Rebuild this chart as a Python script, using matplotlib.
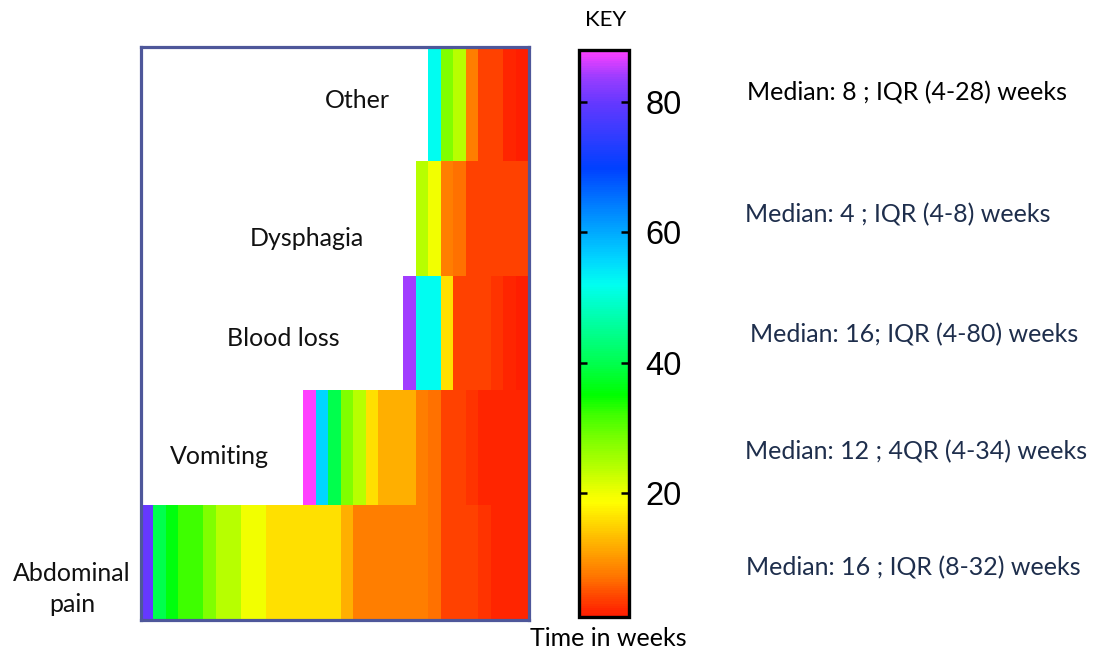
import numpy as np
import matplotlib
matplotlib.use("Agg")
import matplotlib.pyplot as plt
from matplotlib.colors import LinearSegmentedColormap, Normalize

# ---- data: time to diagnosis (weeks) for each patient, sorted longest first
categories = ["Other", "Dysphagia", "Blood loss", "Vomiting", "Abdominal\npain"]

other_weeks = [52, 28, 24, 8, 4, 4, 2, 1]
dysphagia_weeks = [24, 20, 8, 7, 4, 4, 4, 4, 4]
blood_loss_weeks = [84, 52, 52, 16, 4, 4, 4, 3, 2, 1]
vomiting_weeks = [88, 56, 40, 28, 24, 16, 12, 12, 12, 8, 7, 4, 4, 3, 2, 2, 2, 2]
abdominal_pain_weeks = [80, 40, 36, 32, 32, 28, 24, 24, 20, 20,
                        16, 16, 16, 16, 16, 16, 12,
                        8, 8, 8, 8, 8, 8, 7, 4, 4, 4, 3, 2, 2, 2]

summaries = [
    "Median: 8 ; IQR (4-28) weeks",
    "Median: 4 ; IQR (4-8) weeks",
    "Median: 16; IQR (4-80) weeks",
    "Median: 12 ; 4QR (4-34) weeks",
    "Median: 16 ; IQR (8-32) weeks",
]

key_ticks = [20, 40, 60, 80]
week_min, week_max = 1, 88

rows = [other_weeks, dysphagia_weeks, blood_loss_weeks, vomiting_weeks,
        abdominal_pain_weeks]
n_cols = max(len(r) for r in rows)

# right-align each symptom's patients in a common grid
grid = np.full((len(rows), n_cols), np.nan)
for i, r in enumerate(rows):
    grid[i, n_cols - len(r):] = r
grid = np.ma.masked_invalid(grid)

# ---- colour scale: red (short) through yellow, green, cyan, blue to magenta (long)
anchors = [
    (1, "#FF1E00"), (2, "#FF2800"), (3, "#FF3800"), (4, "#FF4500"),
    (7, "#FF7400"), (8, "#FF8000"), (12, "#FFB000"), (16, "#FFE000"),
    (18.5, "#FFFF00"), (20, "#EFFF00"), (24, "#B5FF00"), (28, "#7FFF00"),
    (32, "#3FFF00"), (35, "#00FF00"), (40, "#00FF4F"), (52, "#00FFF0"),
    (56, "#00D5FF"), (62, "#0095FF"), (70, "#0040FF"), (80, "#6438FF"),
    (84, "#9B3DFF"), (88, "#FF40FF"),
]
cmap = LinearSegmentedColormap.from_list(
    "weeks", [((v - week_min) / (week_max - week_min), c) for v, c in anchors])
norm = Normalize(week_min, week_max)

W, H = 1093, 651
fig = plt.figure(figsize=(W / 100, H / 100), dpi=100)

def frac(x0, y0, x1, y1):
    return [x0 / W, 1 - y1 / H, (x1 - x0) / W, (y1 - y0) / H]

label_font = "Lato"
num_font = "Liberation Sans"

# ---- heat strip panel
ax = fig.add_axes(frac(140.5, 46.5, 528.5, 619.5))
mesh = ax.pcolormesh(np.arange(n_cols + 1), np.arange(len(rows) + 1), grid,
                     cmap=cmap, norm=norm, shading="flat")
ax.set_xlim(0, n_cols)
ax.set_ylim(len(rows), 0)
ax.set_xticks([])
ax.set_yticks([])
for s in ax.spines.values():
    s.set_color("#4E579A")
    s.set_linewidth(2.3)

label_pos = [(357, 101), (307, 238), (283, 338), (219, 457), (72, 589)]
for name, (px, py) in zip(categories, label_pos):
    fig.text(px / W, 1 - py / H, name, ha="center", va="center",
             fontsize=18, family=label_font, color="#111111",
             linespacing=1.4)

# ---- colour key
cax = fig.add_axes(frac(579, 50, 629, 617))
cb = fig.colorbar(mesh, cax=cax, ticks=key_ticks)
cb.outline.set_linewidth(2.4)
cb.outline.set_edgecolor("black")
cax.tick_params(direction="in", left=True, right=True, length=5.5,
                width=1.8, color="black", labelsize=23.5, pad=12)
for t in cax.get_yticklabels():
    t.set_family(num_font)
fig.text(606 / W, 1 - 20 / H, "KEY", ha="center", va="center",
         fontsize=16, family=label_font)
fig.text(608 / W, 1 - 638 / H, "Time in weeks", ha="center", va="center",
         fontsize=18, family=label_font)

# ---- summary statistics
summary_pos = [(747, 93), (745, 215), (750, 335), (745, 452), (746, 568)]
summary_colors = ["#000000", "#1E2E4C", "#1E2E4C", "#1E2E4C", "#1E2E4C"]
for txt, (px, py), c in zip(summaries, summary_pos, summary_colors):
    fig.text(px / W, 1 - py / H, txt, ha="left", va="center",
             fontsize=18, family=label_font, color=c)

fig.savefig("out.png", dpi=100)
